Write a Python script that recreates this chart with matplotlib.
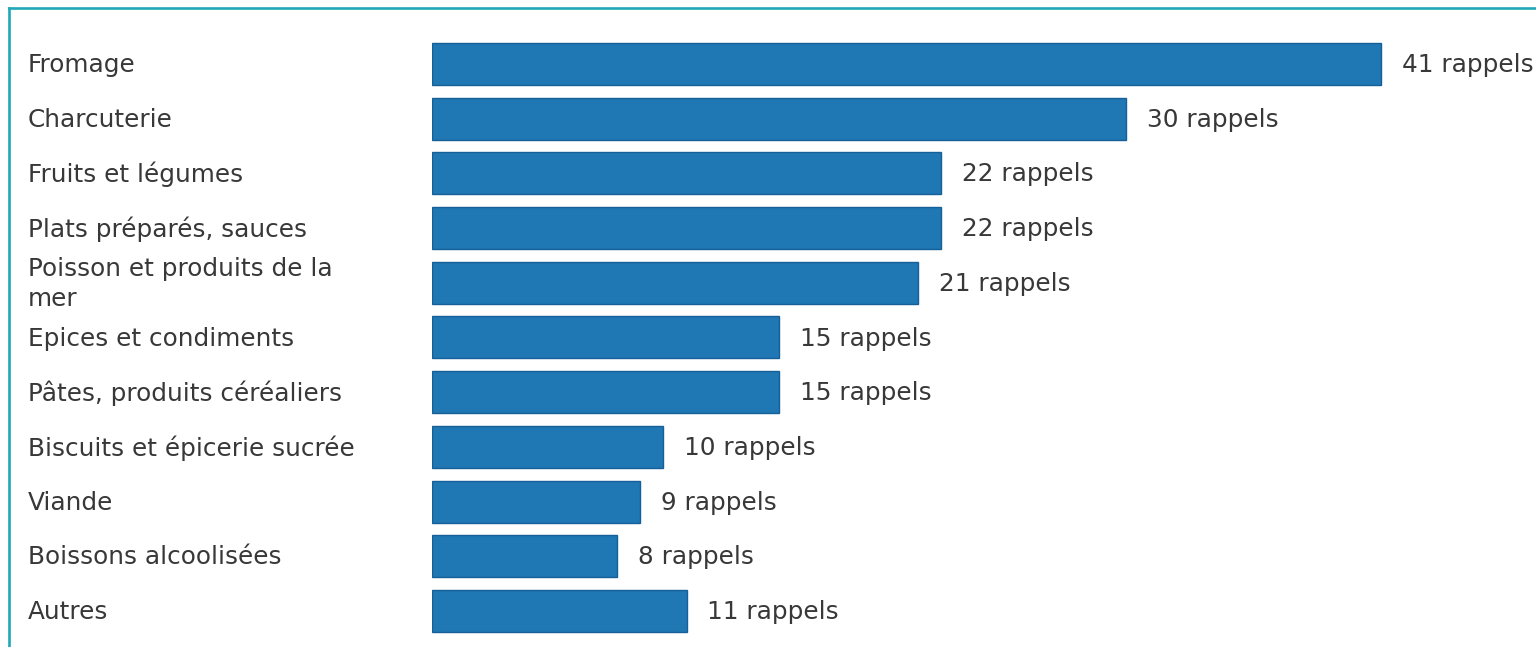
import matplotlib
matplotlib.use("Agg")
import matplotlib.pyplot as plt
from matplotlib.lines import Line2D
import matplotlib.transforms as mtransforms

categories = ["Fromage", "Charcuterie", "Fruits et légumes", "Plats préparés, sauces",
              "Poisson et produits de la\nmer", "Epices et condiments",
              "Pâtes, produits céréaliers", "Biscuits et épicerie sucrée", "Viande",
              "Boissons alcoolisées", "Autres"]
values = [41, 30, 22, 22, 21, 15, 15, 10, 9, 8, 11]
value_labels = [f"{v} rappels" for v in values]

W, H = 1536, 647
fig = plt.figure(figsize=(W / 100, H / 100), dpi=100)
fig.patch.set_facecolor("white")

ax_left = 432 / W
ax = fig.add_axes([ax_left, 0, 1 - ax_left, 1])
px_per_unit = (1381 - 432) / 41
ax.set_xlim(0, (W - 432) / px_per_unit)
row = (611 - 64) / 10
ax.set_ylim(10 + (H - 611) / row, -64 / row)
ax.axis("off")

ypos = list(range(len(categories)))
ax.barh(ypos, values, height=42 / row, color="#1f77b4", edgecolor="#16609a",
        linewidth=1.0)

trans = mtransforms.blended_transform_factory(fig.transFigure, ax.transData)
for y, cat in zip(ypos, categories):
    ax.text(28 / W, y + 0.02, cat, transform=trans, ha="left", va="center",
            fontsize=17.8, color="#383838", linespacing=1.3, clip_on=False)

for y, v, lab in zip(ypos, values, value_labels):
    ax.annotate(lab, xy=(v, y + 0.02), xytext=(15, 0), textcoords="offset points",
                ha="left", va="center", fontsize=17.8, color="#383838",
                annotation_clip=False)

border = "#1fa8b8"
fig.add_artist(Line2D([9 / W, 1], [1 - 8 / H, 1 - 8 / H], transform=fig.transFigure,
                      color=border, linewidth=1.9))
fig.add_artist(Line2D([9 / W, 9 / W], [0, 1 - 8 / H], transform=fig.transFigure,
                      color=border, linewidth=1.9))

fig.savefig("out.png", dpi=100, facecolor="white")
